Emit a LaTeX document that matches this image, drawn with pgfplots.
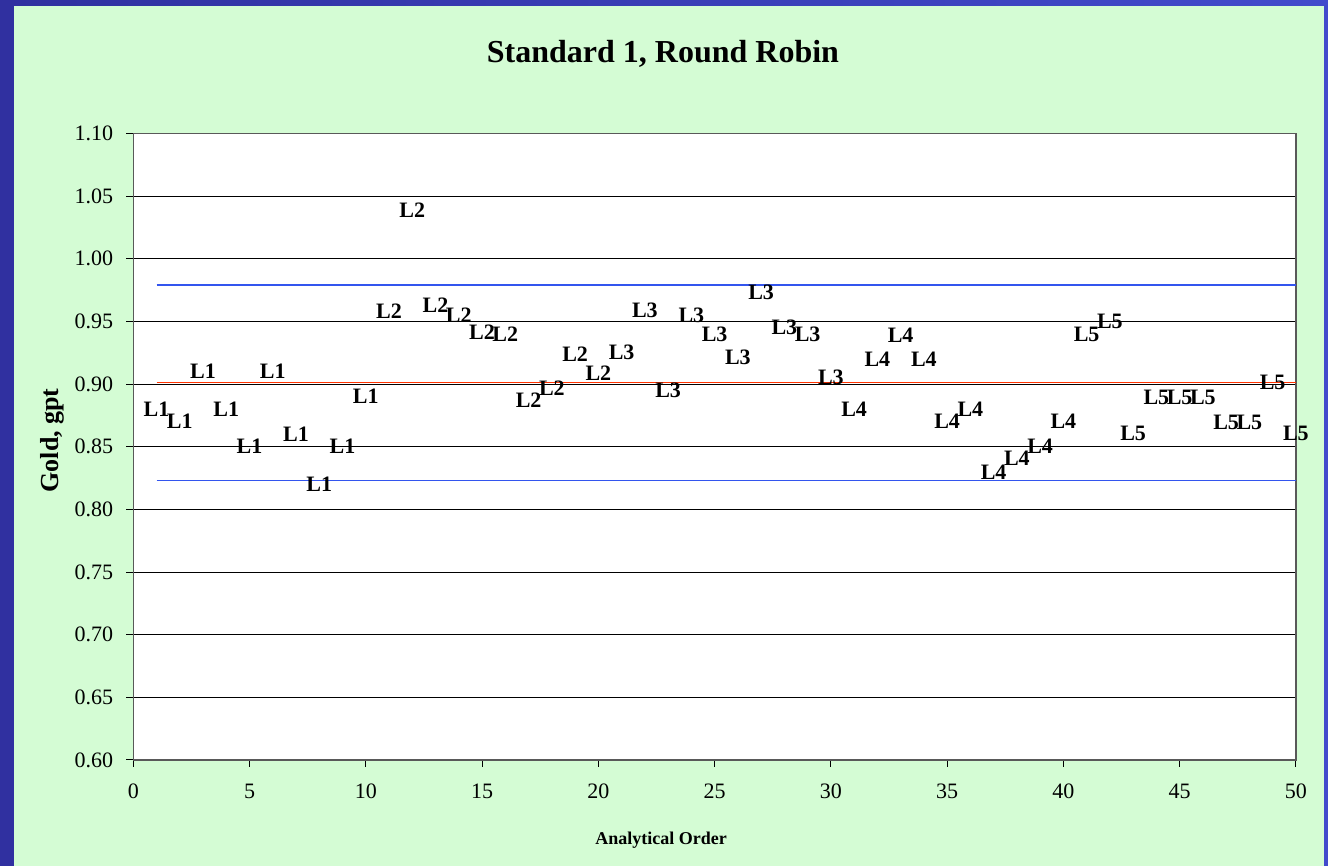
\documentclass[border=0pt]{standalone}
\usepackage{fontspec}
\setmainfont{Liberation Serif}
\usepackage{pgfplots}
\pgfplotsset{compat=1.18}
\definecolor{frameblue}{RGB}{66,74,204}
\definecolor{framedark}{RGB}{48,48,160}
\definecolor{chartgreen}{RGB}{212,252,212}
\definecolor{limblue}{RGB}{51,85,238}
\definecolor{meanred}{RGB}{255,51,0}

\begin{document}
\begin{tikzpicture}
% slide frame and chart area
\shade[left color=framedark, right color=frameblue] (0,0) rectangle (664pt,433pt);
\fill[chartgreen] (7pt,0) rectangle (662pt,430pt);
\node[font=\fontsize{16}{19}\selectfont\bfseries, anchor=base] at (331.5pt,401.5pt) {Standard 1, Round Robin};
\begin{axis}[
  at={(66.65pt,53pt)}, anchor=south west,
  scale only axis,
  width=581.3pt, height=313.3pt,
  xmin=0, xmax=50, ymin=0.60, ymax=1.10,
  xtick={0,5,...,50},
  ytick={0.60,0.65,...,1.10},
  /pgf/number format/assume math mode=true,
  tick label style={font=\fontsize{11}{13}\selectfont, black},
  xticklabel style={yshift=-5pt},
  yticklabel style={xshift=-3pt, /pgf/number format/.cd, fixed, fixed zerofill, precision=2},
  tick align=outside, xtick pos=bottom, ytick pos=left,
  major tick length=3.5pt,
  tick style={black, line width=0.5pt},
  ymajorgrids=true,
  grid style={black, line width=0.5pt},
  axis line style={draw=gray!70!black, line width=0.6pt},
  axis background/.style={fill=white},
  clip=false,
  xlabel={Analytical Order},
  xlabel style={font=\fontsize{9}{11}\selectfont\bfseries, at={(axis description cs:0.454,-0.128)}, anchor=center},
  ylabel={Gold, gpt},
  ylabel style={font=\fontsize{13}{15}\selectfont\bfseries, at={(axis description cs:-0.070,0.51)}, anchor=center},
  nodes near coords style={anchor=center, inner sep=0pt, font=\fontsize{11}{13}\selectfont\bfseries, black},
]
% control limits
\addplot[limblue, line width=0.6pt] coordinates {(1,0.979) (50,0.979)};
\addplot[limblue, line width=0.6pt] coordinates {(1,0.823) (50,0.823)};
\addplot[meanred, line width=0.6pt] coordinates {(1,0.901) (50,0.901)};
% labs
\addplot[draw=none, nodes near coords={L1}] coordinates {
  (1,0.880) (2,0.870) (3,0.910) (4,0.880) (5,0.850)
  (6,0.910) (7,0.860) (8,0.820) (9,0.850) (10,0.890)
};
\addplot[draw=none, nodes near coords={L2}] coordinates {
  (11,0.958) (12,1.039) (13,0.963) (14,0.955) (15,0.941)
  (16,0.940) (17,0.887) (18,0.897) (19,0.924) (20,0.909)
};
\addplot[draw=none, nodes near coords={L3}] coordinates {
  (21,0.925) (22,0.959) (23,0.895) (24,0.955) (25,0.940)
  (26,0.921) (27,0.973) (28,0.945) (29,0.940) (30,0.905)
};
\addplot[draw=none, nodes near coords={L4}] coordinates {
  (31,0.880) (32,0.920) (33,0.939) (34,0.920) (35,0.870)
  (36,0.880) (37,0.830) (38,0.841) (39,0.850) (40,0.870)
};
\addplot[draw=none, nodes near coords={L5}] coordinates {
  (41,0.940) (42,0.950) (43,0.861) (44,0.889) (45,0.889)
  (46,0.889) (47,0.869) (48,0.869) (49,0.901) (50,0.861)
};
\end{axis}
\end{tikzpicture}
\end{document}
